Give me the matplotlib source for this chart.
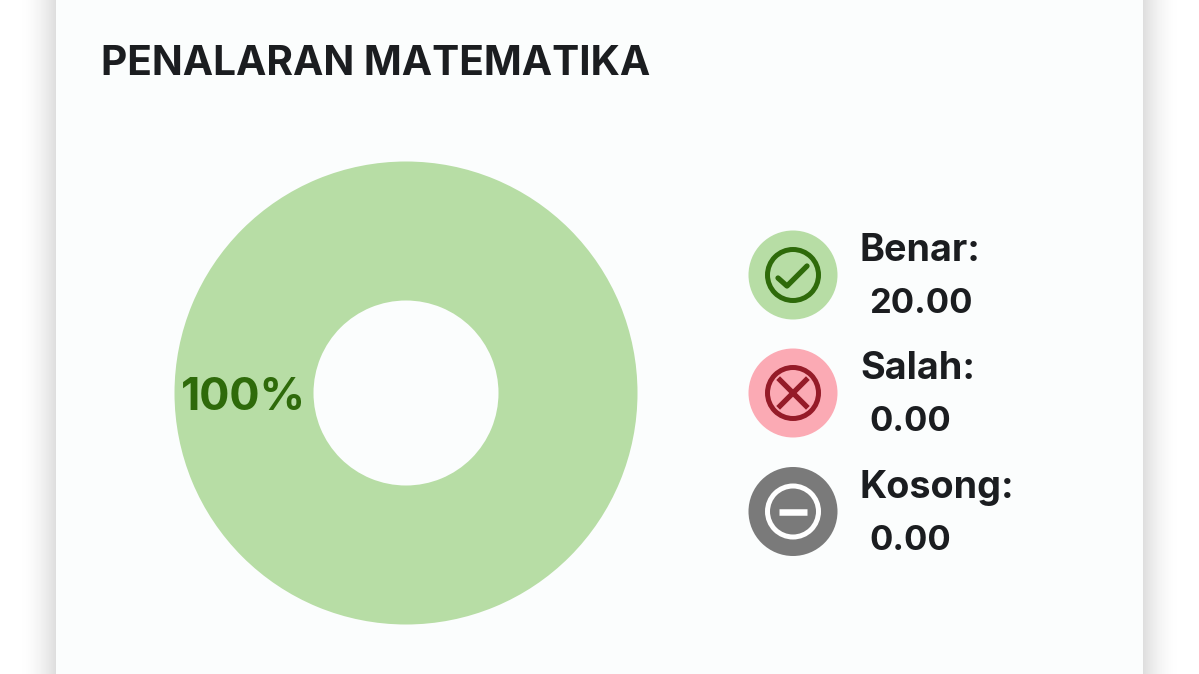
import numpy as np
import matplotlib
matplotlib.use('Agg')
import matplotlib.pyplot as plt
from matplotlib.patches import Circle, Rectangle

# Data
title = 'PENALARAN MATEMATIKA'
categories = ['Benar:', 'Salah:', 'Kosong:']
values = [20.00, 0.00, 0.00]
pie_label = '100%'

# Colours
bg = '#FBFDFD'
ink = '#1B1D20'
light = ['#B7DDA5', '#FBAAB4', '#7A7A7A']
dark = ['#2E6A0A', '#951B28', '#FFFFFF']

plt.rcParams['font.family'] = ['Inter', 'DejaVu Sans']

W, H = 1199, 674
fig = plt.figure(figsize=(W / 100, H / 100), dpi=100, facecolor='white')

# whole figure axes, in pixels
ax = fig.add_axes([0, 0, 1, 1])
ax.set_xlim(0, W)
ax.set_ylim(H, 0)
ax.axis('off')

# card shadow on both sides
fade = np.linspace(0, 1, 64) ** 1.8
shadow = np.ones((1, 64, 4))
shadow[..., :3] = 0.82
shadow[0, :, 3] = fade * 0.72
ax.imshow(shadow, extent=(20, 56, H, 0), aspect='auto', zorder=1)
ax.imshow(shadow[:, ::-1], extent=(1143, 1179, H, 0), aspect='auto', zorder=1)
ax.set_xlim(0, W)
ax.set_ylim(H, 0)
ax.add_patch(Rectangle((56, 0), 1087, H, fc=bg, ec='none', zorder=2))

ax.text(101, 64, title, fontsize=29.3, fontweight='bold', color=ink,
        va='center', ha='left', zorder=3)

# donut
cx, cy, r_out, r_in = 406, 393, 231.5, 92.5
pie_ax = fig.add_axes([(cx - r_out) / W, 1 - (cy + r_out) / H,
                       2 * r_out / W, 2 * r_out / H])
pie_ax.pie(values, colors=light, startangle=90, radius=1,
           wedgeprops={'width': 1 - r_in / r_out, 'linewidth': 0})
pie_ax.set_xlim(-1, 1)
pie_ax.set_ylim(-1, 1)
pie_ax.patch.set_alpha(0)
pie_ax.text(-0.70, -0.02, pie_label, fontsize=32.3, fontweight='bold',
            color=dark[0], ha='center', va='center')

# legend
icon_x = 793
icon_y = [275, 393, 511.5]
for i, name in enumerate(categories):
    y = icon_y[i]
    ax.add_patch(Circle((icon_x, y), 44.5, fc=light[i], ec='none', zorder=3))
    ax.add_patch(Circle((icon_x, y), 25.5, fc='none', ec=dark[i], lw=3.6, zorder=4))
    if i == 0:
        ax.plot([icon_x - 15, icon_x - 6, icon_x + 14], [y + 3, y + 11, y - 9],
                color=dark[i], lw=3.8, solid_capstyle='round',
                solid_joinstyle='round', zorder=4)
    elif i == 1:
        ax.plot([icon_x - 13, icon_x + 13], [y - 13, y + 13], color=dark[i],
                lw=3.8, zorder=4)
        ax.plot([icon_x - 13, icon_x + 13], [y + 13, y - 13], color=dark[i],
                lw=3.8, zorder=4)
    else:
        ax.plot([icon_x - 14, icon_x + 14], [y, y], color=dark[i], lw=4.7,
                solid_capstyle='butt', zorder=4)
    ax.text(860, y - 24, name, fontsize=27.2, fontweight='bold', color=ink,
            va='center', ha='left', zorder=3)
    ax.text(869, y + 29, f'{values[i]:.2f}', fontsize=24.8, fontweight='bold',
            color=ink, va='center', ha='left', zorder=3)

fig.savefig('out.png', dpi=100, facecolor='white')
